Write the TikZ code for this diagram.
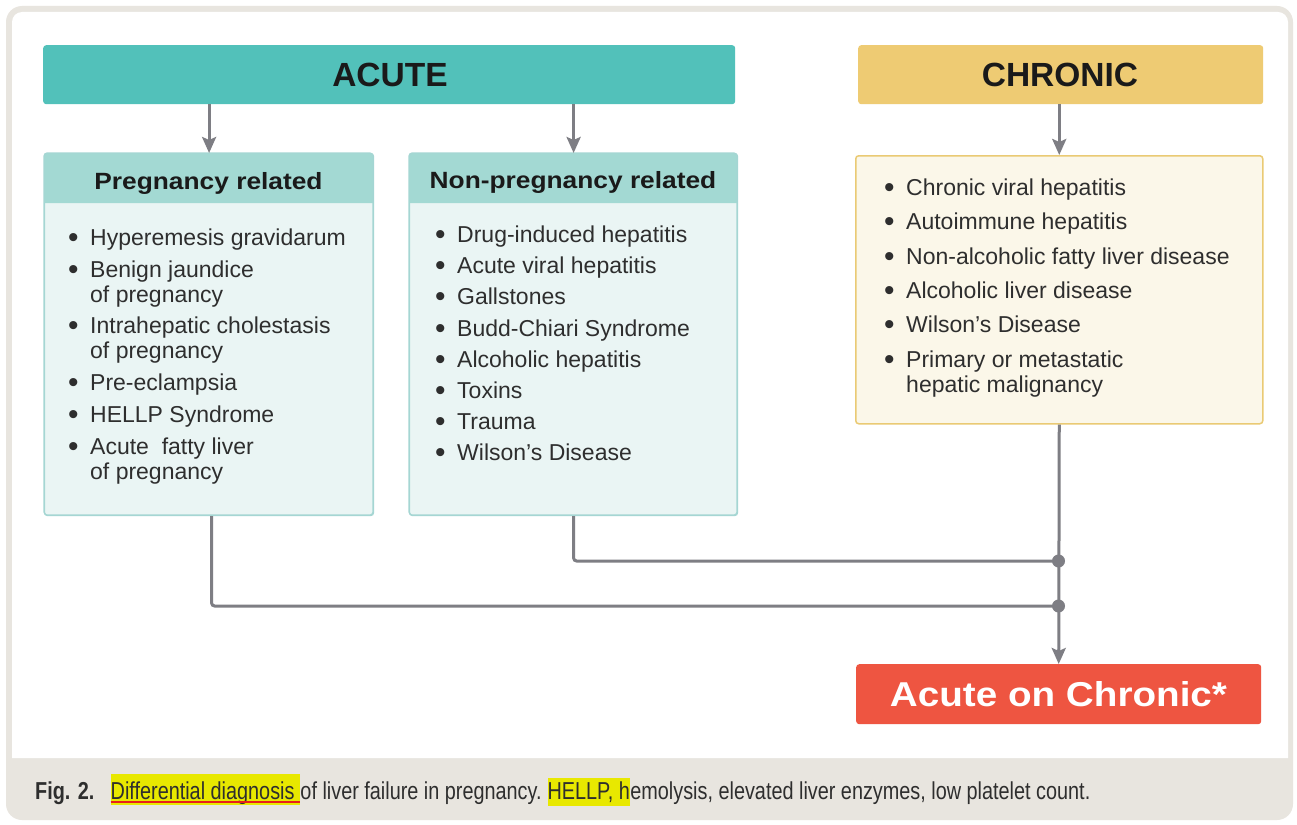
\documentclass[tikz,border=0pt]{standalone}
\usepackage{fontspec}
\setmainfont{Liberation Sans}
\newfontfamily\hdfont{Liberation Sans}[FakeStretch=1.12]
\newfontfamily\capfont{Liberation Sans}[FakeStretch=0.81]
\usetikzlibrary{arrows.meta}
\definecolor{acutec}{HTML}{52C1BA}
\definecolor{hdrc}{HTML}{A3D9D3}
\definecolor{bodyc}{HTML}{EAF5F4}
\definecolor{bordc}{HTML}{A5D6D3}
\definecolor{chronc}{HTML}{EECB73}
\definecolor{chrbody}{HTML}{FBF7E9}
\definecolor{chrbord}{HTML}{EACA74}
\definecolor{redc}{HTML}{EE5541}
\definecolor{linec}{HTML}{7E7E84}
\definecolor{framec}{HTML}{E8E5DF}
\definecolor{txt}{HTML}{2E2E2E}
\definecolor{txtdark}{HTML}{1A1A1A}
\definecolor{hlyellow}{HTML}{E8E800}
\definecolor{ulred}{HTML}{E8201A}
\newcommand{\bul}{\makebox[22pt][l]{\raisebox{-2pt}{\scalebox{1.3}{•}}}}
\newcommand{\cont}{\hspace*{22pt}}
\begin{document}
\begin{tikzpicture}[x=1pt,y=-1pt,
  bar/.style={rounded corners=3pt, inner sep=0pt, anchor=north west},
  bartxt/.style={anchor=base, inner sep=0pt, text=txtdark, font={\fontsize{33.5}{38}\selectfont\bfseries}},
  hdrtxt/.style={anchor=base, inner sep=0pt, text=txtdark, font={\hdfont\fontsize{23.5}{28}\selectfont\bfseries}},
  accbox/.style={draw=bordc, line width=1.2pt, fill=bodyc, rounded corners=3pt, inner sep=0pt, anchor=north west},
  itm/.style={anchor=base west, inner sep=0pt, text=txt, font={\fontsize{23}{25}\selectfont}},
  conn/.style={draw=linec, line width=3pt, rounded corners=3pt},
  arr/.style={draw=linec, line width=3pt, -{Stealth[length=16pt,width=14pt,inset=3pt]}},
  dot/.style={circle, fill=linec, inner sep=0pt, minimum size=13pt},
  capt/.style={anchor=base west, inner sep=0pt, text=txt, font={\capfont\fontsize{24.5}{28}\selectfont}}
]
\useasboundingbox (0,0) rectangle (1297,824);
\fill[white] (0,0) rectangle (1297,824);
% frame
\fill[framec, rounded corners=16pt] (6,6) rectangle (1293,820);
\fill[white] (12,758) {[rounded corners=10pt] -- (12,12) -- (1288,12)} -- (1288,758) -- cycle;

% top bars
\node[bar, fill=acutec, minimum width=692pt, minimum height=59pt] (acute) at (43,45) {};
\node[bartxt] (acutet) at (390,87) {ACUTE};
\node[bar, fill=chronc, minimum width=405pt, minimum height=59pt] (chronic) at (858,45) {};
\node[bartxt] (chronict) at (1060,87) {CHRONIC};

% pregnancy related box
\node[accbox, minimum width=329pt, minimum height=362pt] (preg) at (44,153) {};
\fill[hdrc] (44,203) {[rounded corners=3pt] -- (44,153) -- (373,153)} -- (373,203) -- cycle;
\draw[bordc, line width=1.2pt, rounded corners=3pt] (44,153) rectangle (373,515);
\node[hdrtxt] (pregt) at (208.5,189) {Pregnancy related};

% non-pregnancy box
\node[accbox, minimum width=328pt, minimum height=362pt] (nonp) at (409,153) {};
\fill[hdrc] (409,203) {[rounded corners=3pt] -- (409,153) -- (737,153)} -- (737,203) -- cycle;
\draw[bordc, line width=1.2pt, rounded corners=3pt] (409,153) rectangle (737,515);
\node[hdrtxt] (nonpt) at (573,188) {Non-pregnancy related};

% chronic box
\node[draw=chrbord, line width=1.5pt, fill=chrbody, rounded corners=3pt, inner sep=0pt, anchor=north west, minimum width=407pt, minimum height=268pt] (chr) at (855,155) {};

% acute on chronic
\node[bar, fill=redc, minimum width=405pt, minimum height=60pt] (aoc) at (856,664) {};
\node[anchor=base, inner sep=0pt, text=white, font={\hdfont\fontsize{34.5}{40}\selectfont\bfseries}] (aoct) at (1058.5,706) {Acute on Chronic*};

% pregnancy items
\node[itm] (p1) at (68,245) {\bul Hyperemesis gravidarum};
\node[itm] (p2) at (68,277) {\begin{tabular}[t]{@{}l@{}}\bul Benign jaundice\\\cont of pregnancy\end{tabular}};
\node[itm] (p3) at (68,333) {\begin{tabular}[t]{@{}l@{}}\bul Intrahepatic cholestasis\\\cont of pregnancy\end{tabular}};
\node[itm] (p4) at (68,390) {\bul Pre-eclampsia};
\node[itm] (p5) at (68,422) {\bul HELLP Syndrome};
\node[itm] (p6) at (68,454) {\begin{tabular}[t]{@{}l@{}}\bul Acute\ \ fatty liver\\\cont of pregnancy\end{tabular}};

% non-pregnancy items
\node[itm] (n1) at (435,242) {\bul Drug-induced hepatitis};
\node[itm] (n2) at (435,273) {\bul Acute viral hepatitis};
\node[itm] (n3) at (435,304) {\bul Gallstones};
\node[itm] (n4) at (435,336) {\bul Budd-Chiari Syndrome};
\node[itm] (n5) at (435,367) {\bul Alcoholic hepatitis};
\node[itm] (n6) at (435,398) {\bul Toxins};
\node[itm] (n7) at (435,429) {\bul Trauma};
\node[itm] (n8) at (435,460) {\bul Wilson’s Disease};

% chronic items
\node[itm] (c1) at (884,195) {\bul Chronic viral hepatitis};
\node[itm] (c2) at (884,229) {\bul Autoimmune hepatitis};
\node[itm] (c3) at (884,264) {\bul Non-alcoholic fatty liver disease};
\node[itm] (c4) at (884,298) {\bul Alcoholic liver disease};
\node[itm] (c5) at (884,332) {\bul Wilson’s Disease};
\node[itm] (c6) at (884,367) {\begin{tabular}[t]{@{}l@{}}\bul Primary or metastatic\\\cont hepatic malignancy\end{tabular}};

% arrows from bars
\draw[arr] (preg.north |- acute.south) -- (preg.north);
\draw[arr] (nonp.north |- acute.south) -- (nonp.north);
\draw[arr] (chr.north |- chronic.south) -- (chr.north);

% connectors
\coordinate (j1) at (1058.5,561);
\coordinate (j2) at (1058.5,606);
\draw[conn] ([xshift=2.5pt]preg.south) |- (j2);
\draw[conn] (nonp.south) |- (j1);
\draw[arr] (chr.south) -- (aoc.north);
\node[dot] (d1) at (j1) {};
\node[dot] (d2) at (j2) {};

% caption
\node[capt] (fig) at (35,799) {\bfseries Fig. 2.};
\node[capt, fill=hlyellow, text height=25pt, text depth=6pt] (hl1) at (110.5,799) {Differential diagnosis\ \mbox{}};
\draw[ulred, line width=2.5pt] ([yshift=3pt]hl1.south west) -- ([yshift=3pt]hl1.south east);
\node[capt] (cap2) at (hl1.base east) {of liver failure in pregnancy.\ \mbox{}};
\node[capt, fill=hlyellow, text height=21pt, text depth=7pt] (hl2) at (cap2.base east) {HELLP, h};
\node[capt] (cap3) at (hl2.base east) {emolysis, elevated liver enzymes, low platelet count.};
\end{tikzpicture}
\end{document}
